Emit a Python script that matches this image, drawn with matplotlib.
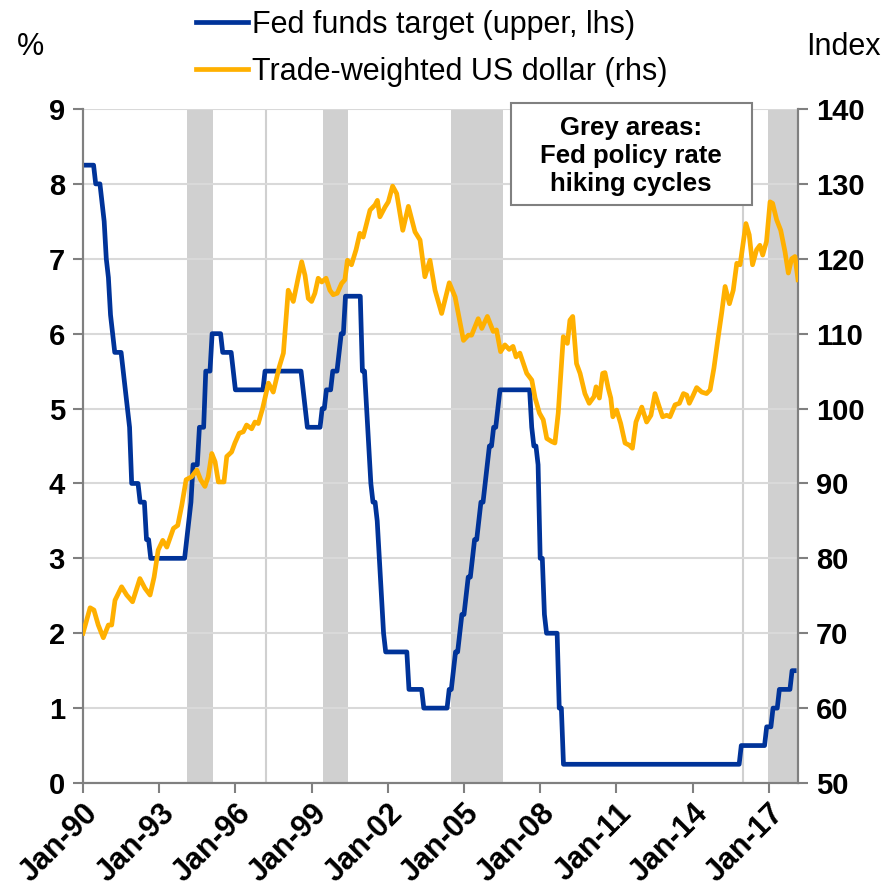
import matplotlib
matplotlib.use('Agg')
import matplotlib.pyplot as plt
import matplotlib.patches as mpatches
import pandas as pd

plt.rcParams['font.family'] = ['Liberation Sans', 'DejaVu Sans']

# Fed funds target (upper), change points: month the new level took effect
fed_change_dates = ['1990-01', '1990-07', '1990-10', '1990-11', '1990-12', '1991-01', '1991-02',
                    '1991-03', '1991-04', '1991-08', '1991-09', '1991-10', '1991-11', '1991-12',
                    '1992-04', '1992-07', '1992-09', '1994-02', '1994-03', '1994-04', '1994-05',
                    '1994-08', '1994-11', '1995-02', '1995-07', '1995-12', '1996-01', '1997-03',
                    '1998-09', '1998-10', '1998-11', '1999-06', '1999-08', '1999-11', '2000-02',
                    '2000-03', '2000-05', '2001-01', '2001-03', '2001-04', '2001-05', '2001-06',
                    '2001-08', '2001-09', '2001-10', '2001-11', '2001-12', '2002-11', '2003-06',
                    '2004-06', '2004-08', '2004-09', '2004-11', '2004-12', '2005-02', '2005-03',
                    '2005-05', '2005-06', '2005-08', '2005-09', '2005-11', '2005-12', '2006-01',
                    '2006-03', '2006-05', '2006-06', '2007-09', '2007-10', '2007-12', '2008-01',
                    '2008-03', '2008-04', '2008-10', '2008-12', '2015-12', '2016-12', '2017-03',
                    '2017-06', '2017-12']
fed_change_levels = [8.25, 8.0, 7.75, 7.5, 7.0, 6.75, 6.25,
                     6.0, 5.75, 5.5, 5.25, 5.0, 4.75, 4.0,
                     3.75, 3.25, 3.0, 3.25, 3.5, 3.75, 4.25,
                     4.75, 5.5, 6.0, 5.75, 5.5, 5.25, 5.5,
                     5.25, 5.0, 4.75, 5.0, 5.25, 5.5, 5.75,
                     6.0, 6.5, 5.5, 5.0, 4.5, 4.0, 3.75,
                     3.5, 3.0, 2.5, 2.0, 1.75, 1.25, 1.0,
                     1.25, 1.5, 1.75, 2.0, 2.25, 2.5, 2.75,
                     3.0, 3.25, 3.5, 3.75, 4.0, 4.25, 4.5,
                     4.75, 5.0, 5.25, 4.75, 4.5, 4.25, 3.0,
                     2.25, 2.0, 1.0, 0.25, 0.5, 0.75, 1.0,
                     1.25, 1.5]
fed_last_month = '2018-01'

# Trade-weighted US dollar index (rhs)
usd_time = [1990.0, 1990.28, 1990.43, 1990.6, 1990.8, 1991.0, 1991.13, 1991.26, 1991.52, 1991.72,
            1991.95, 1992.24, 1992.44, 1992.64, 1992.8, 1992.96, 1993.14, 1993.3, 1993.56, 1993.73,
            1993.89, 1994.06, 1994.28, 1994.48, 1994.63, 1994.8, 1994.93, 1995.07, 1995.2, 1995.33,
            1995.55, 1995.66, 1995.85, 1995.98, 1996.15, 1996.31, 1996.44, 1996.64, 1996.77, 1996.9,
            1997.07, 1997.3, 1997.49, 1997.73, 1997.89, 1998.08, 1998.28, 1998.48, 1998.61, 1998.74,
            1998.87, 1999.0, 1999.13, 1999.26, 1999.4, 1999.57, 1999.72, 1999.85, 2000.01, 2000.18,
            2000.31, 2000.41, 2000.57, 2000.75, 2000.9, 2001.03, 2001.3, 2001.5, 2001.59, 2001.69,
            2001.89, 2002.02, 2002.19, 2002.35, 2002.59, 2002.81, 2003.07, 2003.27, 2003.46, 2003.66,
            2003.86, 2004.12, 2004.42, 2004.65, 2004.98, 2005.17, 2005.3, 2005.56, 2005.7, 2005.92,
            2006.15, 2006.28, 2006.44, 2006.61, 2006.78, 2006.93, 2007.05, 2007.2, 2007.47, 2007.67,
            2007.8, 2007.97, 2008.12, 2008.26, 2008.45, 2008.58, 2008.71, 2008.91, 2009.07, 2009.17,
            2009.28, 2009.43, 2009.57, 2009.76, 2009.93, 2010.12, 2010.2, 2010.33, 2010.46, 2010.55,
            2010.68, 2010.78, 2010.86, 2011.01, 2011.17, 2011.34, 2011.51, 2011.63, 2011.77, 2012.0,
            2012.19, 2012.36, 2012.52, 2012.69, 2012.82, 2012.98, 2013.11, 2013.31, 2013.48, 2013.64,
            2013.77, 2013.87, 2014.0, 2014.16, 2014.36, 2014.55, 2014.69, 2014.84, 2015.01, 2015.15,
            2015.28, 2015.45, 2015.6, 2015.74, 2015.87, 2015.97, 2016.1, 2016.23, 2016.36, 2016.52,
            2016.65, 2016.76, 2016.91, 2017.05, 2017.15, 2017.31, 2017.47, 2017.64, 2017.77, 2017.9,
            2018.03, 2018.15]
usd_value = [70.0, 73.4, 73.1, 71.1, 69.4, 71.1, 71.1, 74.4, 76.2, 75.1,
             74.2, 77.3, 76.0, 75.1, 77.5, 81.1, 82.4, 81.5, 84.0, 84.4,
             87.1, 90.5, 90.9, 91.8, 90.5, 89.6, 90.9, 94.0, 92.9, 90.2,
             90.2, 93.6, 94.2, 95.4, 96.7, 96.9, 97.8, 97.3, 98.2, 98.0,
             100.0, 103.4, 102.2, 105.6, 107.4, 115.8, 114.3, 117.6, 119.6, 117.8,
             114.7, 114.3, 115.4, 117.4, 116.9, 117.4, 115.8, 115.2, 115.4, 116.7,
             117.2, 119.8, 119.2, 121.2, 123.4, 122.9, 126.5, 127.2, 127.8, 125.6,
             126.9, 127.6, 129.7, 128.7, 123.8, 127.0, 123.6, 122.5, 117.6, 119.8,
             115.8, 112.7, 116.8, 114.9, 109.1, 109.8, 109.8, 112.0, 110.7, 112.3,
             110.3, 110.5, 107.6, 108.5, 107.9, 108.3, 106.9, 107.4, 104.7, 103.8,
             101.4, 99.4, 98.5, 96.0, 95.6, 95.4, 99.4, 109.6, 108.7, 111.8,
             112.3, 106.0, 104.7, 102.0, 100.7, 101.6, 102.9, 101.4, 104.7, 104.8,
             102.7, 101.4, 98.9, 99.8, 98.0, 95.4, 95.1, 94.7, 98.2, 100.2,
             98.2, 99.1, 102.0, 100.2, 98.9, 99.1, 98.9, 100.5, 100.7, 102.0,
             101.8, 100.7, 101.6, 102.8, 102.2, 102.0, 102.5, 105.4, 109.6, 112.9,
             116.3, 114.0, 115.8, 119.4, 119.2, 121.6, 124.7, 123.2, 119.2, 121.2,
             121.8, 120.5, 122.3, 127.6, 127.4, 125.2, 123.8, 120.9, 118.1, 120.0,
             120.3, 117.2]

# Fed hiking cycles (grey areas) and single hikes (thin lines)
hike_starts = [1994.09, 1999.45, 2004.49, 2016.95]
hike_ends = [1995.12, 2000.43, 2006.54, 2018.2]
single_hikes = [1997.22, 2016.0]

tick_years = [1990, 1993, 1996, 1999, 2002, 2005, 2008, 2011, 2014, 2017]
tick_labels = ['Jan-90', 'Jan-93', 'Jan-96', 'Jan-99', 'Jan-02',
               'Jan-05', 'Jan-08', 'Jan-11', 'Jan-14', 'Jan-17']

# monthly fed series (level holds until the next change)
fed = pd.Series(fed_change_levels, index=pd.PeriodIndex(fed_change_dates, freq='M'))
months = pd.period_range(fed_change_dates[0], fed_last_month, freq='M')
fed = fed.reindex(months).ffill()
fed_time = [p.year + (p.month - 1) / 12 for p in months]

blue = '#003399'
orange = '#FFB000'
grey_axis = '#808080'

fig = plt.figure(figsize=(8.85, 8.93), dpi=100)
ax = fig.add_axes([83 / 885, 1 - 783 / 893, (798 - 83) / 885, (783 - 109) / 893])
ax2 = ax.twinx()

for s, e in zip(hike_starts, hike_ends):
    ax.axvspan(s, e, color='#d0d0d0', lw=0, zorder=0)
for x in single_hikes:
    ax.axvline(x, color='#d0d0d0', lw=1.5, zorder=0.4)

ax.grid(axis='y', color='#d9d9d9', lw=1.5, zorder=0.5)
ax.set_axisbelow(True)

l1, = ax.plot(fed_time, fed.values, color=blue, lw=3.4, zorder=3, label='Fed funds target (upper, lhs)')
l2, = ax2.plot(usd_time, usd_value, color=orange, lw=3.4, zorder=3, label='Trade-weighted US dollar (rhs)')

ax.set_xlim(1990, 2018.15)
ax.set_ylim(0, 9)
ax.set_yticks(range(0, 10))
ax2.set_ylim(50, 140)
ax2.set_yticks(range(50, 141, 10))
ax.set_xticks(tick_years)
ax.set_xticklabels(tick_labels, rotation=45, ha='right', rotation_mode='anchor')

for a in (ax, ax2):
    for sp in a.spines.values():
        sp.set_color(grey_axis)
        sp.set_linewidth(1.5)
    a.spines['top'].set_visible(False)
    a.tick_params(colors=grey_axis, labelcolor='black', width=1.5, length=7, labelsize=21)
    for lab in a.get_xticklabels() + a.get_yticklabels():
        lab.set_fontweight('bold')
ax.tick_params(axis='y', pad=6)
ax2.tick_params(axis='y', pad=6)
ax.tick_params(axis='x', pad=4, labelsize=22)

fig.text(30 / 885, 1 - 47 / 893, '%', fontsize=22, ha='center', va='center')
fig.text(843 / 885, 1 - 47 / 893, 'Index', fontsize=22, ha='center', va='center')

fig.legend(handles=[l1, l2], loc='upper left', bbox_to_anchor=(196 / 885, 1 - 10 / 893),
           frameon=False, fontsize=22, handlelength=1.7, handletextpad=0.12,
           labelspacing=0.55, borderpad=0, borderaxespad=0)

# "Grey areas" note box
box = mpatches.Rectangle((511 / 885, 1 - 205 / 893), (752 - 511) / 885, (205 - 103) / 893,
                         transform=fig.transFigure, facecolor='white', edgecolor=grey_axis,
                         lw=1.5, zorder=5)
fig.add_artist(box)
fig.text(631 / 885, 1 - 156 / 893, 'Grey areas:\nFed policy rate\nhiking cycles',
         fontsize=18.5, fontweight='bold', ha='center', va='center', linespacing=1.2, zorder=6)

fig.savefig('out.png', dpi=100)
